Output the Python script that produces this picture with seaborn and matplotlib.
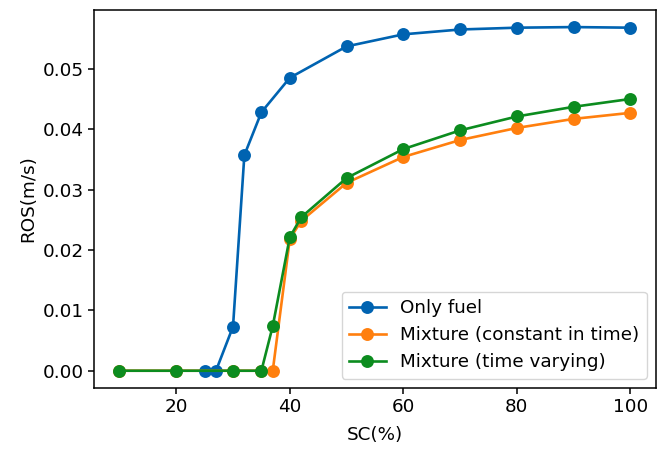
import numpy as np
import pandas as pd
import matplotlib
matplotlib.use("Agg")
import matplotlib.pyplot as plt
import seaborn as sns

# Only fuel
sc_fuel = [25, 27, 30, 32, 35, 40, 50, 60, 70, 80, 90, 100]
ros_fuel = [0.0, 0.0, 0.0073, 0.0357, 0.0428, 0.0485, 0.0537, 0.0557, 0.0565, 0.0568, 0.0569, 0.0568]

# Mixture (constant in time)
sc_const = [10, 20, 30, 35, 37, 40, 42, 50, 60, 70, 80, 90, 100]
ros_const = [0.0, 0.0, 0.0, 0.0, 0.0, 0.0218, 0.0248, 0.0311, 0.0354, 0.0382, 0.0402, 0.0417, 0.0427]

# Mixture (time varying)
sc_vary = [10, 20, 30, 35, 37, 40, 42, 50, 60, 70, 80, 90, 100]
ros_vary = [0.0, 0.0, 0.0, 0.0, 0.0074, 0.0221, 0.0254, 0.0319, 0.0367, 0.0398, 0.0421, 0.0437, 0.0450]

labels = ["Only fuel", "Mixture (constant in time)", "Mixture (time varying)"]
colors = ["#0063b1", "#ff7f0e", "#0c8c1f"]

df = pd.concat([
    pd.DataFrame({"SC": sc_fuel, "ROS": ros_fuel, "case": labels[0]}),
    pd.DataFrame({"SC": sc_const, "ROS": ros_const, "case": labels[1]}),
    pd.DataFrame({"SC": sc_vary, "ROS": ros_vary, "case": labels[2]}),
], ignore_index=True)

fs = 13.2
plt.rcParams["font.size"] = fs
fig = plt.figure(figsize=(6.66, 4.5), dpi=100)
ax = fig.add_axes([0.141, 0.138, 0.844, 0.84])

for lab, col in zip(labels, colors):
    sub = df[df["case"] == lab]
    sns.lineplot(data=sub, x="SC", y="ROS", ax=ax, color=col, label=lab,
                 marker="o", markersize=9.3, markeredgewidth=0, linewidth=1.9,
                 estimator=None, sort=False)

ax.set_xlabel("SC(%)", labelpad=7)
ax.set_ylabel("ROS(m/s)")
ax.set_xticks([20, 40, 60, 80, 100])
ax.set_yticks([0.0, 0.01, 0.02, 0.03, 0.04, 0.05])
ax.yaxis.set_major_formatter(matplotlib.ticker.FormatStrFormatter("%.2f"))
ax.tick_params(width=1.1, length=4)
for s in ax.spines.values():
    s.set_linewidth(1.1)
ax.legend(loc="lower right", fontsize=fs)

fig.savefig("out.png", dpi=100)
